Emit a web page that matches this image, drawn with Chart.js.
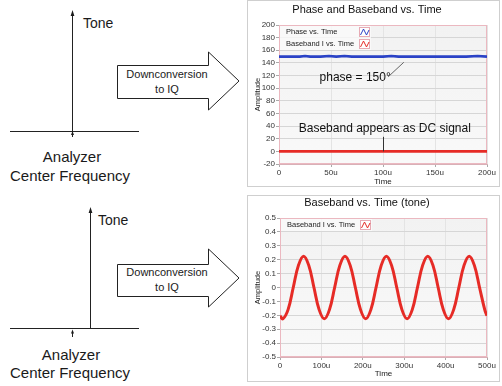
<!DOCTYPE html>
<html>
<head>
<meta charset="utf-8">
<script src="https://cdn.jsdelivr.net/npm/chart.js@4.4.1/dist/chart.umd.min.js"></script>
<style>
  html, body { margin: 0; padding: 0; background: #fff; }
  #pagina { position: relative; width: 502px; height: 386px; overflow: hidden; }
  #diagrama { position: absolute; left: 0; top: 0; }
  #grafico-topo { position: absolute; left: 247px; top: 0; }
  #grafico-baixo { position: absolute; left: 247px; top: 195px; }
</style>
</head>
<body>
<div id="pagina">
  <svg id="diagrama" width="246" height="386" font-family="'Liberation Sans', Arial, sans-serif" fill="#1a1a1a">
    <!-- diagrama de cima: tom no centro -->
    <line x1="72.5" y1="15" x2="72.5" y2="131" stroke="#222" stroke-width="1"/>
    <polygon points="72.5,10 70.6,16 74.4,16"/>
    <line x1="10" y1="131.5" x2="139" y2="131.5" stroke="#222" stroke-width="1"/>
    <line x1="72.5" y1="132" x2="72.5" y2="137" stroke="#222" stroke-width="1"/>
    <polygon points="72.5,131 71,135 74,135"/>
    <text x="83" y="28" font-size="14">Tone</text>
    <text x="72" y="162" font-size="15" text-anchor="middle">Analyzer</text>
    <text x="70" y="180.5" font-size="15" text-anchor="middle">Center Frequency</text>
    <polygon points="117.5,65.5 208.5,65.5 208.5,52 239,81 208.5,110 208.5,98.5 117.5,98.5" fill="#fff" stroke="#222" stroke-width="1"/>
    <text x="167" y="78" font-size="11" text-anchor="middle">Downconversion</text>
    <text x="167" y="93" font-size="11" text-anchor="middle">to IQ</text>

    <!-- diagrama de baixo: tom deslocado -->
    <line x1="90.5" y1="212" x2="90.5" y2="328" stroke="#222" stroke-width="1"/>
    <polygon points="90.5,207 88.6,213 92.4,213"/>
    <line x1="10" y1="328.5" x2="139" y2="328.5" stroke="#222" stroke-width="1"/>
    <line x1="72.5" y1="332" x2="72.5" y2="337" stroke="#222" stroke-width="1"/>
    <polygon points="72.5,329.5 71,333.5 74,333.5"/>
    <text x="98" y="225" font-size="14">Tone</text>
    <text x="71" y="360" font-size="15" text-anchor="middle">Analyzer</text>
    <text x="70" y="377.5" font-size="15" text-anchor="middle">Center Frequency</text>
    <polygon points="117.5,264.5 208.5,264.5 208.5,249 239,278 208.5,307 208.5,296.5 117.5,296.5" fill="#fff" stroke="#222" stroke-width="1"/>
    <text x="167" y="276" font-size="11" text-anchor="middle">Downconversion</text>
    <text x="167" y="291" font-size="11" text-anchor="middle">to IQ</text>
  </svg>
  <canvas id="grafico-topo" width="253" height="187"></canvas>
  <canvas id="grafico-baixo" width="253" height="187"></canvas>
</div>

<script>
// ---- dados do grafico de cima (tempo em microssegundos) ----
const topoTicksX = [0, 50, 100, 150, 200];
const topoRotulosX = ['0', '50u', '100u', '150u', '200u'];
const topoTicksY = [-20, 0, 20, 40, 60, 80, 100, 120, 140, 160, 180, 200];
const topoRotulosY = ['-20', '0', '20', '40', '60', '80', '100', '120', '140', '160', '180', '200'];

const faseTempo = [0, 10, 20, 25, 30, 40, 48, 55, 63, 70, 80, 90, 100, 108, 115, 125, 140, 155, 170, 180, 191, 200];
const faseValores = [150, 150, 150, 151, 150, 150, 151, 150, 151, 150, 150, 150, 150, 151, 150, 150, 150, 150, 150, 150, 151, 150];
const dcTempo = [0, 50, 100, 150, 200];
const dcValores = [0, 0, 0, 0, 0];

// ---- dados do grafico de baixo ----
const baixoTicksX = [0, 100, 200, 300, 400, 500];
const baixoRotulosX = ['0', '100u', '200u', '300u', '400u', '500u'];
const baixoTicksY = [-0.5, -0.4, -0.3, -0.2, -0.1, 0, 0.1, 0.2, 0.3, 0.4, 0.5];
const baixoRotulosY = ['-0.5', '-0.4', '-0.3', '-0.2', '-0.1', '0', '0.1', '0.2', '0.3', '0.4', '0.5'];

const tomTempo = [0, 7, 19.5, 32, 44.5, 57, 69.5, 82, 94.5, 107, 119.5, 132, 144.5, 157, 169.5, 182, 194.5,
  207, 219.5, 232, 244.5, 257, 269.5, 282, 294.5, 307, 319.5, 332, 344.5, 357, 369.5, 382, 394.5,
  407, 419.5, 432, 444.5, 457, 469.5, 482, 494.5, 500];
const tomValores = [-0.204, -0.225, -0.159, 0, 0.159, 0.225, 0.159, 0, -0.159,
  -0.225, -0.159, 0, 0.159, 0.225, 0.159, 0, -0.159,
  -0.225, -0.159, 0, 0.159, 0.225, 0.159, 0, -0.159,
  -0.225, -0.159, 0, 0.159, 0.225, 0.159, 0, -0.159,
  -0.225, -0.159, 0, 0.159, 0.225, 0.159, 0, -0.159, -0.204];

// anotacoes do grafico de cima (em coordenadas de dados)
const notaFase = { texto: 'phase = 150°', x: 39, y: 117 };
const setaFase = [{ x: 105, y: 118 }, { x: 120, y: 141 }];
const notaDC = { texto: 'Baseband appears as DC signal', x: 19, y: 36.5 };
const setaDC = [{ x: 100, y: 23 }, { x: 100, y: 0 }];

const FONTE = "'Liberation Sans', Arial, sans-serif";
const AZUL = '#2a42c6';
const VERMELHO = '#e62b26';

function pontos(xs, ys) {
  return xs.map((x, i) => ({ x: x, y: ys[i] }));
}

// moldura do painel e fundo cinza da area do grafico
const fundoPlot = {
  id: 'fundoPlot',
  beforeDraw(chart) {
    const { ctx, chartArea: a } = chart;
    ctx.save();
    ctx.fillStyle = '#fff';
    ctx.fillRect(0, 0, chart.width, chart.height);
    ctx.strokeStyle = '#cfcfcf';
    ctx.lineWidth = 1;
    ctx.strokeRect(0.5, 0.5, chart.width - 1, chart.height - 1);
    const g = ctx.createLinearGradient(0, a.top, 0, a.bottom);
    g.addColorStop(0, '#f2f2f2');
    g.addColorStop(1, '#f9f9f9');
    ctx.fillStyle = g;
    ctx.fillRect(a.left, a.top, a.right - a.left, a.bottom - a.top);
    ctx.restore();
  },
  beforeDatasetsDraw(chart) {
    const { ctx, chartArea: a } = chart;
    ctx.save();
    ctx.strokeStyle = '#ebb8c0';
    ctx.lineWidth = 1;
    ctx.strokeRect(a.left + 0.5, a.top + 0.5, a.right - a.left - 1, a.bottom - a.top - 1);
    ctx.restore();
  }
};

// legenda dentro da area do grafico, no canto superior esquerdo
const legendaInterna = {
  id: 'legendaInterna',
  afterDatasetsDraw(chart) {
    const { ctx, chartArea: a } = chart;
    const sets = chart.data.datasets;
    const x0 = a.left + 1, y0 = a.top + 1, linha = 12;
    ctx.save();
    ctx.fillStyle = 'rgba(250,250,250,0.8)';
    ctx.fillRect(x0, y0, 91, linha * sets.length);
    ctx.font = '7.5px ' + FONTE;
    ctx.textBaseline = 'middle';
    sets.forEach((ds, i) => {
      const cy = y0 + linha * i + linha / 2;
      ctx.fillStyle = '#222';
      ctx.fillText(ds.label, x0 + 6, cy);
      const ix = x0 + 79, iy = y0 + linha * i + 1;
      ctx.fillStyle = '#fff';
      ctx.fillRect(ix, iy, 11, 10);
      ctx.strokeStyle = '#e7aab4';
      ctx.lineWidth = 1;
      ctx.strokeRect(ix + 0.5, iy + 0.5, 10, 9);
      ctx.strokeStyle = ds.borderColor;
      ctx.beginPath();
      ctx.moveTo(ix + 1.5, iy + 8);
      ctx.lineTo(ix + 4.5, iy + 2);
      ctx.lineTo(ix + 7.5, iy + 8);
      ctx.lineTo(ix + 10, iy + 3);
      ctx.stroke();
    });
    ctx.restore();
  }
};

// textos e setas explicativas do grafico de cima
const anotacoes = {
  id: 'anotacoes',
  afterDatasetsDraw(chart) {
    const { ctx } = chart;
    const sx = chart.scales.x, sy = chart.scales.y;
    ctx.save();
    ctx.font = '12px ' + FONTE;
    ctx.fillStyle = '#111';
    ctx.textBaseline = 'middle';
    ctx.fillText(notaFase.texto, sx.getPixelForValue(notaFase.x), sy.getPixelForValue(notaFase.y));
    ctx.fillText(notaDC.texto, sx.getPixelForValue(notaDC.x), sy.getPixelForValue(notaDC.y));
    ctx.strokeStyle = '#666';
    ctx.lineWidth = 1;
    ctx.beginPath();
    ctx.moveTo(sx.getPixelForValue(setaFase[0].x), sy.getPixelForValue(setaFase[0].y));
    ctx.lineTo(sx.getPixelForValue(setaFase[1].x), sy.getPixelForValue(setaFase[1].y));
    ctx.stroke();
    ctx.strokeStyle = '#333';
    const dx = Math.round(sx.getPixelForValue(setaDC[0].x)) + 0.5;
    ctx.beginPath();
    ctx.moveTo(dx, sy.getPixelForValue(setaDC[0].y));
    ctx.lineTo(dx, sy.getPixelForValue(setaDC[1].y));
    ctx.stroke();
    ctx.restore();
  }
};

function eixos(ticksX, rotulosX, ticksY, rotulosY, larguraY, alturaX, padTempo) {
  return {
    x: {
      type: 'linear',
      min: ticksX[0],
      max: ticksX[ticksX.length - 1],
      afterBuildTicks: s => { s.ticks = ticksX.map(v => ({ value: v })); },
      afterFit: s => { s.height = alturaX; },
      ticks: {
        autoSkip: false, maxRotation: 0, padding: 1,
        color: '#333', font: { family: FONTE, size: 8 },
        callback: v => rotulosX[ticksX.indexOf(v)]
      },
      grid: { color: '#e4e4e4', tickColor: '#aaa', tickLength: 3 },
      border: { color: '#d9b0b7' },
      title: { display: true, text: 'Time', color: '#222', font: { family: FONTE, size: 8 }, padding: { top: 0, bottom: padTempo } }
    },
    y: {
      type: 'linear',
      min: ticksY[0],
      max: ticksY[ticksY.length - 1],
      afterBuildTicks: s => { s.ticks = ticksY.map(v => ({ value: v })); },
      afterFit: s => { s.width = larguraY; },
      ticks: {
        autoSkip: false, padding: 1,
        color: '#333', font: { family: FONTE, size: 8 },
        callback: v => rotulosY[ticksY.findIndex(t => Math.abs(t - v) < 1e-9)]
      },
      grid: { color: '#d6d6d6', tickColor: '#aaa', tickLength: 3 },
      border: { color: '#d9b0b7' },
      title: { display: true, text: 'Amplitude', color: '#222', font: { family: FONTE, size: 7.5 }, padding: { top: 6.5, bottom: 0 } }
    }
  };
}

function criarGrafico(id, titulo, padTitulo, datasets, scales, extras) {
  const ctx = document.getElementById(id).getContext('2d');
  return new Chart(ctx, {
    type: 'line',
    data: { datasets: datasets },
    options: {
      responsive: false,
      animation: false,
      devicePixelRatio: 1,
      layout: { padding: { left: 0, right: 13, top: 0, bottom: 0 } },
      plugins: {
        legend: { display: false },
        tooltip: { enabled: false },
        title: {
          display: true, text: titulo, color: '#111',
          font: { family: FONTE, size: 11, weight: 'normal' },
          padding: padTitulo
        }
      },
      scales: scales
    },
    plugins: [fundoPlot, legendaInterna].concat(extras)
  });
}

criarGrafico('grafico-topo', 'Phase and Baseband vs. Time', { top: 3.4, bottom: 8.4 }, [
  {
    label: 'Phase vs. Time',
    data: pontos(faseTempo, faseValores),
    borderColor: AZUL, borderWidth: 2.6, pointRadius: 0, tension: 0
  },
  {
    label: 'Baseband I vs. Time',
    data: pontos(dcTempo, dcValores),
    borderColor: VERMELHO, borderWidth: 2.6, pointRadius: 0, tension: 0
  }
], eixos(topoTicksX, topoRotulosX, topoTicksY, topoRotulosY, 32, 23, 0.5), [anotacoes]);

criarGrafico('grafico-baixo', 'Baseband vs. Time (tone)', { top: 1.4, bottom: 8.4 }, [
  {
    label: 'Baseband I vs. Time',
    data: pontos(tomTempo, tomValores),
    borderColor: VERMELHO, borderWidth: 3, pointRadius: 0, tension: 0.4
  }
], eixos(baixoTicksX, baixoRotulosX, baixoTicksY, baixoRotulosY, 33, 25, 3.5), []);
</script>
</body>
</html>
